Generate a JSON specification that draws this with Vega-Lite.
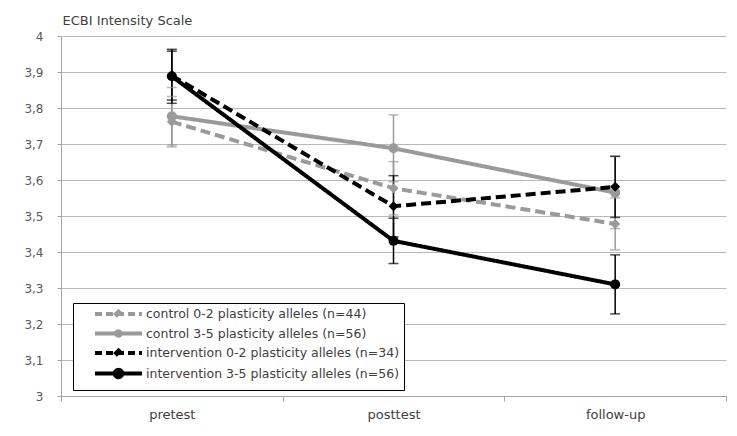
{
  "$schema": "https://vega.github.io/schema/vega-lite/v6.json",
  "width": 665,
  "height": 360,
  "autosize": {"type": "none"},
  "padding": {"left": 61, "top": 36, "right": 11, "bottom": 40},
  "background": "white",
  "config": {
    "view": {"stroke": null},
    "font": "DejaVu Sans",
    "axisY": {
      "domainColor": "#a6a6a6",
      "tickColor": "#a6a6a6",
      "gridColor": "#b8b8b8",
      "tickSize": 4,
      "labelPadding": 14,
      "labelFontSize": 12,
      "labelColor": "#595959",
      "labelOverlap": false,
      "tickCount": 20,
      "titleAngle": 0,
      "titleAlign": "left",
      "titleBaseline": "alphabetic",
      "titleX": 1,
      "titleY": -12,
      "titleFontSize": 13,
      "titleFontWeight": "normal",
      "titleColor": "#404040"
    }
  },
  "data": {
    "values": [
      {"group": "control 0-2 plasticity alleles (n=44)", "time": "pretest", "mean": 3.762, "lo": 3.692, "hi": 3.832},
      {"group": "control 0-2 plasticity alleles (n=44)", "time": "posttest", "mean": 3.577, "lo": 3.503, "hi": 3.651},
      {"group": "control 0-2 plasticity alleles (n=44)", "time": "follow-up", "mean": 3.478, "lo": 3.406, "hi": 3.55},
      {"group": "control 3-5 plasticity alleles (n=56)", "time": "pretest", "mean": 3.777, "lo": 3.697, "hi": 3.857},
      {"group": "control 3-5 plasticity alleles (n=56)", "time": "posttest", "mean": 3.688, "lo": 3.595, "hi": 3.781},
      {"group": "control 3-5 plasticity alleles (n=56)", "time": "follow-up", "mean": 3.565, "lo": 3.465, "hi": 3.665},
      {"group": "intervention 0-2 plasticity alleles (n=34)", "time": "pretest", "mean": 3.89, "lo": 3.822, "hi": 3.958},
      {"group": "intervention 0-2 plasticity alleles (n=34)", "time": "posttest", "mean": 3.527, "lo": 3.442, "hi": 3.612},
      {"group": "intervention 0-2 plasticity alleles (n=34)", "time": "follow-up", "mean": 3.581, "lo": 3.496, "hi": 3.666},
      {"group": "intervention 3-5 plasticity alleles (n=56)", "time": "pretest", "mean": 3.888, "lo": 3.813, "hi": 3.963},
      {"group": "intervention 3-5 plasticity alleles (n=56)", "time": "posttest", "mean": 3.431, "lo": 3.368, "hi": 3.494},
      {"group": "intervention 3-5 plasticity alleles (n=56)", "time": "follow-up", "mean": 3.31, "lo": 3.228, "hi": 3.392}
    ]
  },
  "encoding": {
    "x": {
      "field": "time",
      "type": "nominal",
      "sort": ["pretest", "posttest", "follow-up"],
      "scale": {"type": "band", "paddingInner": 0, "paddingOuter": 0},
      "axis": {
        "title": null,
        "labelAngle": 0,
        "grid": false,
        "domainColor": "#a6a6a6",
        "tickColor": "#a6a6a6",
        "tickBand": "extent",
        "tickSize": 5,
        "labelPadding": 7,
        "labelFontSize": 13,
        "labelColor": "#404040"
      }
    }
  },
  "layer": [
    {
      "mark": {"type": "rule", "strokeWidth": 1.5},
      "encoding": {
        "y": {
          "field": "lo",
          "type": "quantitative",
          "scale": {"domain": [3, 4], "nice": false, "zero": false},
          "axis": {
            "values": [3, 3.1, 3.2, 3.3, 3.4, 3.5, 3.6, 3.7, 3.8, 3.9, 4],
            "tickCount": 20,
            "labelExpr": "replace(format(datum.value, '.1~f'), '.', ',')",
            "title": "ECBI Intensity Scale"
          }
        },
        "y2": {"field": "hi"},
        "color": {"field": "group", "type": "nominal"}
      }
    },
    {
      "mark": {"type": "tick", "orient": "horizontal", "size": 10, "thickness": 1.5},
      "encoding": {
        "y": {
          "field": "hi",
          "type": "quantitative",
          "axis": {
            "values": [3, 3.1, 3.2, 3.3, 3.4, 3.5, 3.6, 3.7, 3.8, 3.9, 4],
            "tickCount": 20,
            "labelExpr": "replace(format(datum.value, '.1~f'), '.', ',')",
            "title": "ECBI Intensity Scale"
          }
        },
        "color": {"field": "group", "type": "nominal"}
      }
    },
    {
      "mark": {"type": "tick", "orient": "horizontal", "size": 10, "thickness": 1.5},
      "encoding": {
        "y": {
          "field": "lo",
          "type": "quantitative",
          "axis": {
            "values": [3, 3.1, 3.2, 3.3, 3.4, 3.5, 3.6, 3.7, 3.8, 3.9, 4],
            "tickCount": 20,
            "labelExpr": "replace(format(datum.value, '.1~f'), '.', ',')",
            "title": "ECBI Intensity Scale"
          }
        },
        "color": {"field": "group", "type": "nominal"}
      }
    },
    {
      "mark": {"type": "line", "strokeWidth": 4},
      "encoding": {
        "y": {
          "field": "mean",
          "type": "quantitative",
          "axis": {
            "values": [3, 3.1, 3.2, 3.3, 3.4, 3.5, 3.6, 3.7, 3.8, 3.9, 4],
            "tickCount": 20,
            "labelExpr": "replace(format(datum.value, '.1~f'), '.', ',')",
            "title": "ECBI Intensity Scale"
          }
        },
        "color": {
          "field": "group",
          "type": "nominal",
          "scale": {
            "domain": [
              "control 0-2 plasticity alleles (n=44)",
              "control 3-5 plasticity alleles (n=56)",
              "intervention 0-2 plasticity alleles (n=34)",
              "intervention 3-5 plasticity alleles (n=56)"
            ],
            "range": ["#9a9a9a", "#9a9a9a", "#000000", "#000000"]
          },
          "legend": {
            "orient": "none",
            "legendX": 12,
            "legendY": 267,
            "title": null,
            "strokeColor": "#000000",
            "fillColor": "white",
            "padding": 4,
            "symbolSize": 100,
            "labelOffset": 55,
            "rowPadding": -2.5,
            "labelFontSize": 12.5,
            "labelFont": "DejaVu Sans",
            "labelLimit": 500,
            "labelColor": "#404040",
            "labelExpr": "datum.label + '\u00a0\u00a0\u00a0\u00a0\u00a0'",
            "encode": {
              "symbols": {
                "update": {
                  "shape": {"signal": "indexof(datum.value, '3-5') >= 0 ? (indexof(datum.value, 'intervention') == 0 ? 'M2.2,0L11.6,0M7.65,0L7.55,0.375L7.275,0.65L6.9,0.75L6.525,0.65L6.25,0.375L6.15,0L6.25,-0.375L6.525,-0.65L6.9,-0.75L7.275,-0.65L7.55,-0.375Z' : 'M2.2,0L11.6,0M7.35,0L7.29,0.225L7.125,0.39L6.9,0.45L6.675,0.39L6.51,0.225L6.45,0L6.51,-0.225L6.675,-0.39L6.9,-0.45L7.125,-0.39L7.29,-0.225Z') : 'M2.2,0L11.6,0M6.4,0L6.9,-0.5L7.4,0L6.9,0.5Z'"},
                  "fill": {"signal": "indexof(datum.value, 'control') == 0 ? '#9a9a9a' : '#000000'"},
                  "stroke": {"signal": "indexof(datum.value, 'control') == 0 ? '#9a9a9a' : '#000000'"},
                  "strokeWidth": {"value": 4},
                  "strokeDash": {"signal": "indexof(datum.value, '0-2') >= 0 ? [7, 4] : [1, 0]"},
                  "opacity": {"value": 1}
                }
              }
            }
          }
        },
        "strokeDash": {
          "field": "group",
          "type": "nominal",
          "scale": {"range": [[10, 5], [1, 0], [10, 5], [1, 0]]},
          "legend": null
        }
      }
    },
    {
      "mark": {"type": "point", "filled": true, "opacity": 1},
      "encoding": {
        "y": {
          "field": "mean",
          "type": "quantitative",
          "axis": {
            "values": [3, 3.1, 3.2, 3.3, 3.4, 3.5, 3.6, 3.7, 3.8, 3.9, 4],
            "tickCount": 20,
            "labelExpr": "replace(format(datum.value, '.1~f'), '.', ',')",
            "title": "ECBI Intensity Scale"
          }
        },
        "color": {"field": "group", "type": "nominal"},
        "shape": {
          "field": "group",
          "type": "nominal",
          "scale": {"range": ["diamond", "circle", "diamond", "circle"]},
          "legend": null
        },
        "size": {
          "field": "group",
          "type": "ordinal",
          "scale": {"range": [100, 100, 110, 120]},
          "legend": null
        }
      }
    }
  ]
}
